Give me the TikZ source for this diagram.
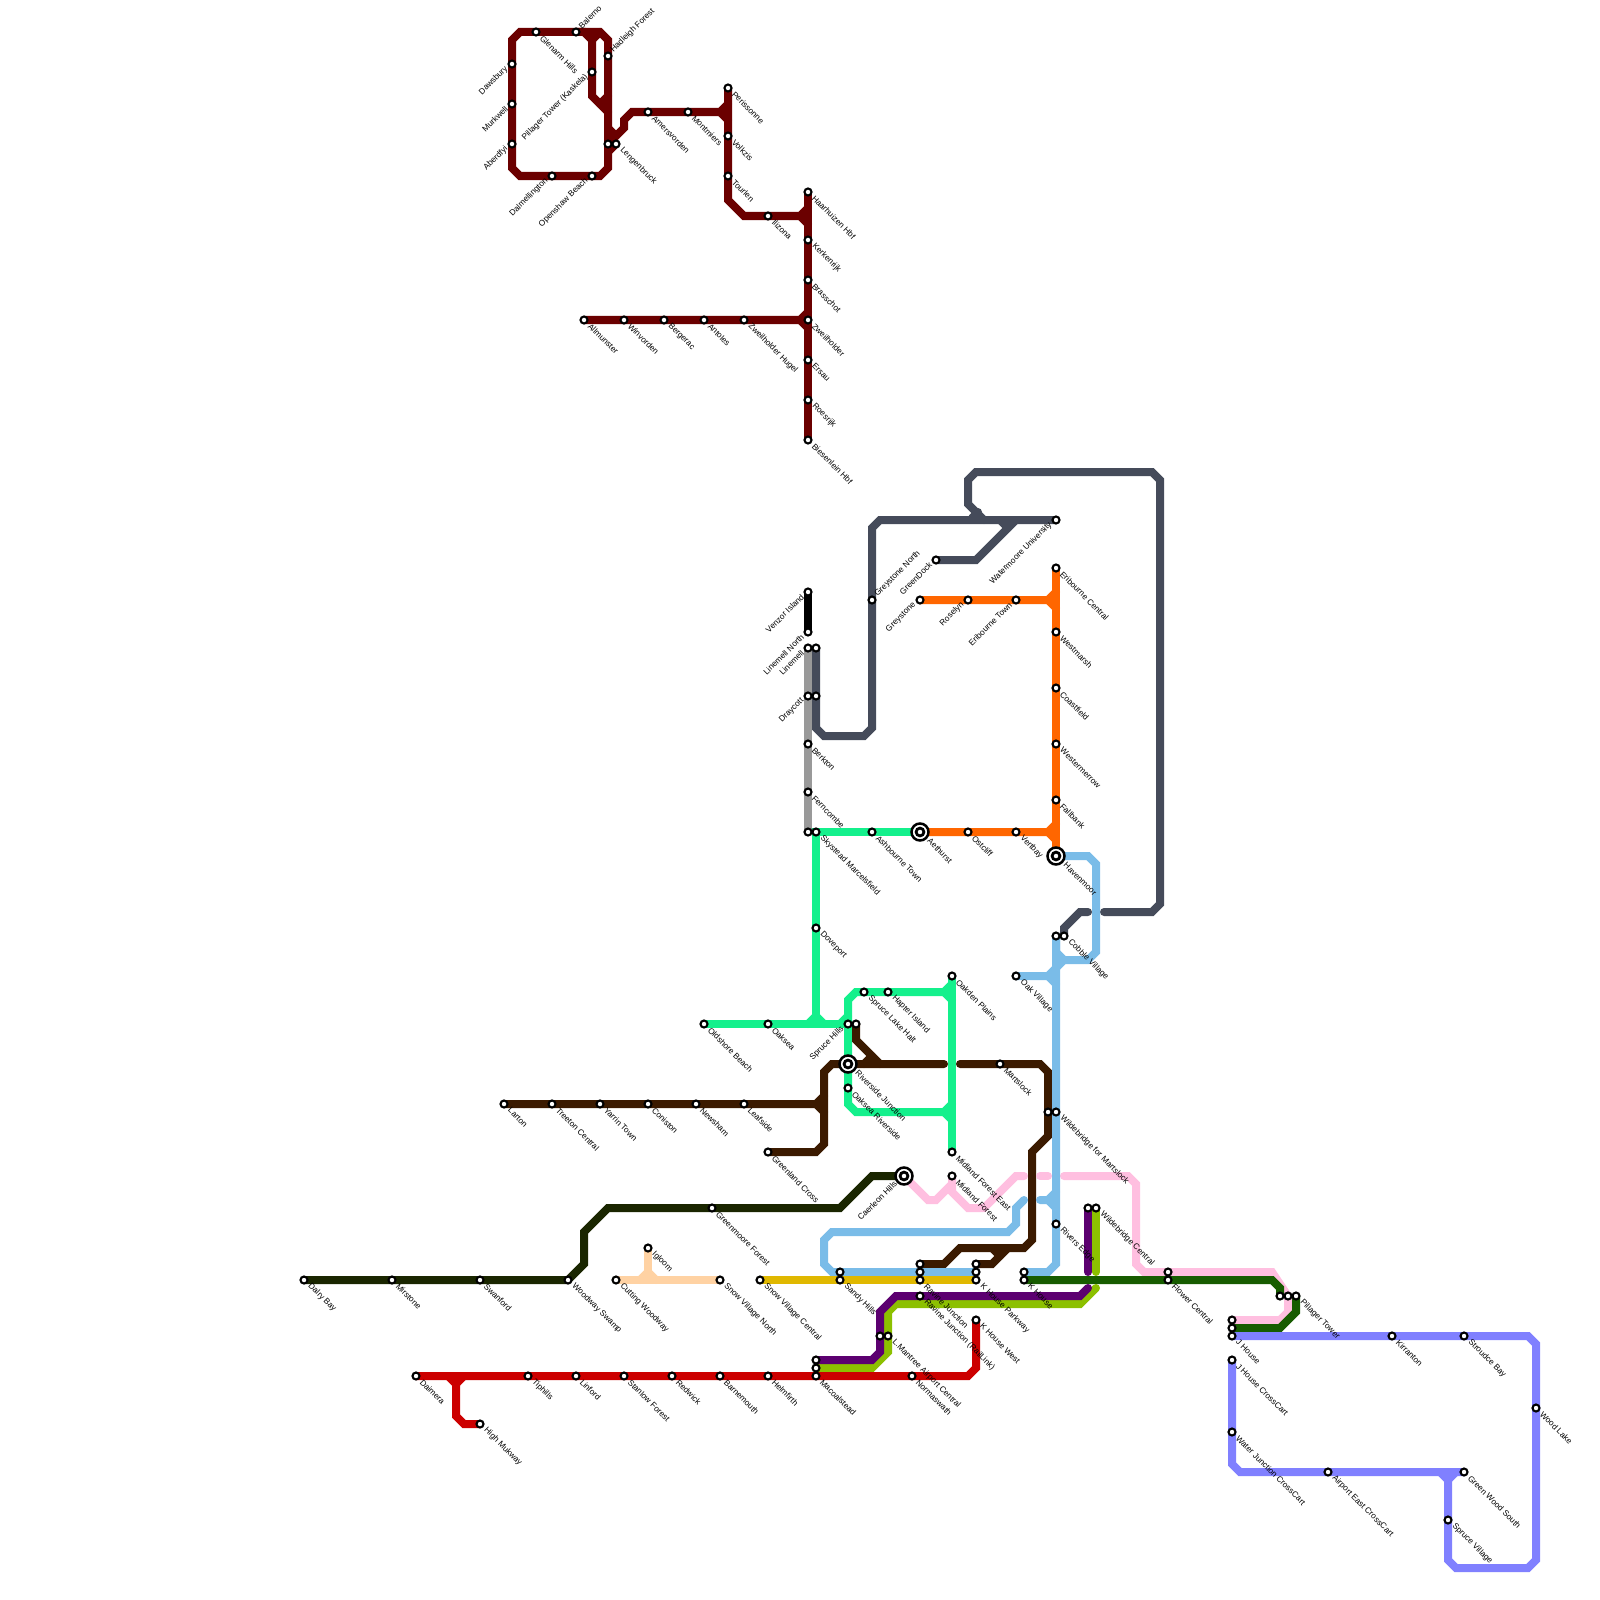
\documentclass[tikz,border=0pt]{standalone}
\usepackage{fontspec}
\setmainfont{Liberation Sans}
\pgfdeclarelayer{lines}
\pgfsetlayers{lines,main}
\definecolor{cDkred}{HTML}{6B0000}
\definecolor{cSlate}{HTML}{454B5A}
\definecolor{cOrange}{HTML}{FF6600}
\definecolor{cGreen}{HTML}{14F08C}
\definecolor{cGrey}{HTML}{999999}
\definecolor{cBlue}{HTML}{7ABCE8}
\definecolor{cBrown}{HTML}{3B1A00}
\definecolor{cNight}{HTML}{1A2600}
\definecolor{cPink}{HTML}{FFBFE0}
\definecolor{cPurple}{HTML}{5C0070}
\definecolor{cLime}{HTML}{8CC000}
\definecolor{cRed}{HTML}{CC0000}
\definecolor{cPeri}{HTML}{8080FF}
\definecolor{cGold}{HTML}{E0B800}
\definecolor{cPeach}{HTML}{FFD2A3}
\definecolor{cForest}{HTML}{175C00}
\tikzset{
  rail/.style={line width=0.08cm,line cap=round,draw=#1},
  stn/.style={circle,draw=black,fill=white,line width=0.021cm,minimum size=0.07cm,inner sep=0pt},
  hub/.style={circle,draw=black,fill=white,line width=0.025cm,minimum size=0.17cm,inner sep=0pt},
  hubin/.style={circle,draw=black,fill=white,line width=0.028cm,minimum size=0.078cm,inner sep=0pt},
  txt/.style={inner sep=0pt,font=\fontsize{2.35}{3}\selectfont,text=black},
  se/.style={xshift=0.05cm,yshift=-0.045cm,txt,anchor=west,rotate=-45},
  nw/.style={xshift=-0.05cm,yshift=-0.032cm,txt,anchor=east,rotate=45},
  ne/.style={xshift=0.035cm,yshift=0.043cm,txt,anchor=west,rotate=45},
  sebig/.style={xshift=0.085cm,yshift=-0.073cm,txt,anchor=west,rotate=-45},
  nwbig/.style={xshift=-0.08cm,yshift=-0.06cm,txt,anchor=east,rotate=45},
}
% name, x, y, label style, text
\newcommand{\stA}[5]{\node[stn] (#1) at (#2,#3) {}; \node[#4] (#1-t) at (#2,#3) {#5};}
\newcommand{\stB}[3]{\node[stn] (#1) at (#2,#3) {};}
\newcommand{\stH}[5]{\node[hub] (#1) at (#2,#3) {}; \node[hubin] (#1-i) at (#2,#3) {}; \node[#4] (#1-t) at (#2,#3) {#5};}
\begin{document}
\begin{tikzpicture}[x=0.01cm,y=-0.01cm]
\useasboundingbox (0,0) rectangle (1600,1600);
% --- dark red line stations
\stA{dawsbury}{512}{64}{nw}{Dawsbury}
\stA{murkwell}{512}{104}{nw}{Murkwell}
\stA{aberdfyi}{512}{144}{nw}{Aberdfyi}
\stA{dalmel}{552}{176}{nw}{Dalmellington}
\stA{openshaw}{592}{176}{nw}{Openshaw Beach}
\stA{glenarm}{536}{32}{se}{Glenarm Hills}
\stA{balerno}{576}{32}{ne}{Balerno}
\stA{hadleigh}{608}{56}{ne}{Hadleigh Forest}
\stA{pillagerk}{592}{72}{nw}{Pillager Tower (Kaskela)}
\stB{lengena}{608}{144}
\stA{lengenb}{616}{144}{se}{Lengenbruck}
\stA{amers}{648}{112}{se}{Amersvorden}
\stA{montm}{688}{112}{se}{Montmiers}
\stA{periss}{728}{88}{se}{Perissonne}
\stA{volkz}{728}{136}{se}{Volkzis}
\stA{tourl}{728}{176}{se}{Tourlen}
\stA{ilizona}{768}{216}{se}{Ilizona}
\stA{haarh}{808}{192}{se}{Haarhuizen Hbf}
\stA{kerk}{808}{240}{se}{Kerkenrijk}
\stA{brass}{808}{280}{se}{Brasschot}
\stA{zweil}{808}{320}{se}{Zweilholder}
\stA{ersau}{808}{360}{se}{Ersau}
\stA{roes}{808}{400}{se}{Roesrijk}
\stA{bies}{808}{440}{se}{Biesenlein Hbf}
\stA{allm}{584}{320}{se}{Allmunster}
\stA{winv}{624}{320}{se}{Winvorden}
\stA{berg}{664}{320}{se}{Bergerac}
\stA{anto}{704}{320}{se}{Antoles}
\stA{zweilh}{744}{320}{se}{Zweilholder Hugel}
% --- black, grey, slate
\stA{venzor}{808}{592}{nw}{Venzor Island}
\stA{linenorth}{808}{632}{nw}{Linemell North}
\stA{linea}{808}{648}{nw}{Linemell}
\stB{lineb}{816}{648}
\stA{draya}{808}{696}{nw}{Draycott}
\stB{drayb}{816}{696}
\stA{berk}{808}{744}{se}{Berkton}
\stA{fern}{808}{792}{se}{Ferncombe}
\stB{skya}{808}{832}
\stA{skyb}{816}{832}{se}{Skystead Marcelsfield}
\stA{greyn}{872}{600}{ne}{Greystone North}
\stA{wate}{1056}{520}{nw}{Watermoore University}
\stA{gdock}{936}{560}{nw}{GreenDock}
\stB{cobba}{1056}{936}
\stA{cobbb}{1064}{936}{se}{Cobble Village}
% --- orange
\stA{greyst}{920}{600}{nw}{Greystone}
\stA{rosel}{968}{600}{nw}{Roselyn}
\stA{eribt}{1016}{600}{nw}{Eribourne Town}
\stA{eribc}{1056}{568}{se}{Eribourne Central}
\stA{westm}{1056}{632}{se}{Westmarsh}
\stA{coast}{1056}{688}{se}{Coastfield}
\stA{wester}{1056}{744}{se}{Westermerrow}
\stA{fallb}{1056}{800}{se}{Fallbank}
\stH{haven}{1056}{856}{sebig}{Havenmoor}
\stH{aeth}{920}{832}{sebig}{Aethurst}
\stA{ostc}{968}{832}{se}{Ostcliff}
\stA{vert}{1016}{832}{se}{Vertbay}
% --- green
\stA{ashb}{872}{832}{se}{Ashbourne Town}
\stA{dove}{816}{928}{se}{Doveport}
\stA{oldsh}{704}{1024}{se}{Oldshore Beach}
\stA{oaksea}{768}{1024}{se}{Oaksea}
\stA{sprha}{848}{1024}{nw}{Spruce Hills}
\stB{sprhb}{856}{1024}
\stH{river}{848}{1064}{sebig}{Riverside Junction}
\stA{oaksr}{848}{1088}{se}{Oaksea Riverside}
\stA{sprlk}{864}{992}{se}{Spruce Lake Halt}
\stA{hapt}{888}{992}{se}{Hapter Island}
\stA{oakd}{952}{976}{se}{Oakden Plains}
\stA{midle}{952}{1152}{se}{Midland Forest East}
% --- brown
\stA{larton}{504}{1104}{se}{Larton}
\stA{treet}{552}{1104}{se}{Treeton Central}
\stA{yarrin}{600}{1104}{se}{Yarrin Town}
\stA{conis}{648}{1104}{se}{Coniston}
\stA{newsh}{696}{1104}{se}{Newsham}
\stA{leafs}{744}{1104}{se}{Leafside}
\stA{greenl}{768}{1152}{se}{Greenland Cross}
\stA{marts}{1000}{1064}{se}{Martslock}
\stB{wildma}{1048}{1112}
\stA{wildmb}{1056}{1112}{se}{Wildebridge for Martslock}
% --- blue and friends
\stA{oakv}{1016}{976}{se}{Oak Village}
\stA{rivers}{1056}{1224}{se}{Rivers Edge}
\stB{sandya}{840}{1272}
\stA{sandyb}{840}{1280}{se}{Sandy Hills}
\stB{ravia}{920}{1264}
\stB{ravib}{920}{1272}
\stA{ravic}{920}{1280}{se}{Ravine Junction}
\stA{ravird}{920}{1296}{se}{Ravine Junction (RailLink)}
\stB{kpa}{976}{1264}
\stB{kpb}{976}{1272}
\stA{kpc}{976}{1280}{se}{K House Parkway}
\stB{kha}{1024}{1272}
\stA{khb}{1024}{1280}{se}{K House}
\stA{snowc}{760}{1280}{se}{Snow Village Central}
\stA{cutt}{616}{1280}{se}{Cutting Woodway}
\stA{snown}{720}{1280}{se}{Snow Village North}
\stA{igloo}{648}{1248}{se}{Igloom}
% --- night line
\stA{dalry}{304}{1280}{se}{Dalry Bay}
\stA{mirst}{392}{1280}{se}{Mirstone}
\stA{swanf}{480}{1280}{se}{Swanford}
\stA{woodw}{568}{1280}{se}{Woodway Swamp}
\stA{greenm}{712}{1208}{se}{Greenmoore Forest}
\stH{caer}{904}{1176}{nwbig}{Caerleon Hills}
\stA{midl}{952}{1176}{se}{Midland Forest}
% --- purple, lime, red
\stB{wildca}{1088}{1208}
\stA{wildcb}{1096}{1208}{se}{Wildebridge Central}
\stB{mana}{880}{1336}
\stA{manb}{888}{1336}{se}{L.Mantree Airport Central}
\stB{maca}{816}{1360}
\stB{macb}{816}{1368}
\stA{macc}{816}{1376}{se}{Macoalstead}
\stA{daim}{416}{1376}{se}{Daimera}
\stA{tiph}{528}{1376}{se}{Tiphills}
\stA{linf}{576}{1376}{se}{Linford}
\stA{stanl}{624}{1376}{se}{Stanlow Forest}
\stA{redw}{672}{1376}{se}{Redwick}
\stA{barn}{720}{1376}{se}{Barnemouth}
\stA{helm}{768}{1376}{se}{Helmfirth}
\stA{norm}{912}{1376}{se}{Normaswath}
\stA{khw}{976}{1320}{se}{K House West}
\stA{highm}{480}{1424}{se}{High Mukway}
% --- east
\stB{flowa}{1168}{1272}
\stA{flowb}{1168}{1280}{se}{Flower Central}
\stB{pila}{1280}{1296}
\stB{pilb}{1288}{1296}
\stA{pilc}{1296}{1296}{se}{Pillager Tower}
\stB{jha}{1232}{1320}
\stB{jhb}{1232}{1328}
\stA{jhc}{1232}{1336}{se}{J House}
\stA{jhcc}{1232}{1360}{se}{J House CrossCart}
\stA{wjcc}{1232}{1432}{se}{Water Junction CrossCart}
\stA{aecc}{1328}{1472}{se}{Airport East CrossCart}
\stA{gws}{1464}{1472}{se}{Green Wood South}
\stA{sprv}{1448}{1520}{se}{Spruce Village}
\stA{kirr}{1392}{1336}{se}{Kirranton}
\stA{strou}{1464}{1336}{se}{Stroudce Bay}
\stA{woodl}{1536}{1408}{se}{Wood Lake}
\begin{pgfonlayer}{lines}
\fill[white] (0,0) rectangle (1600,1600);
% dark red
\draw[rail=cDkred] (aberdfyi.center)--(murkwell.center)--(dawsbury.center)--(512,40)--(520,32)--(glenarm.center)--(balerno.center)--(600,32)--(608,40)--(hadleigh.center)--(lengena.center)--(608,168)--(600,176)--(openshaw.center)--(dalmel.center)--(520,176)--(512,168)--(aberdfyi.center);
\draw[rail=cDkred] (balerno.center)--(584,32)--(592,40)--(pillagerk.center)--(592,96)--(608,112);
\draw[rail=cDkred] (592,40)--(600,32);
\draw[rail=cDkred] (600,104)--(608,96);
\draw[rail=cDkred] (608,128)--(616,136);
\draw[rail=cDkred] (lengena.center)--(624,128)--(624,120)--(632,112)--(amers.center)--(montm.center)--(720,112)--(728,104);
\draw[rail=cDkred] (lengenb.center)--(608,152);
\draw[rail=cDkred] (720,112)--(728,120);
\draw[rail=cDkred] (periss.center)--(volkz.center)--(tourl.center)--(728,200)--(744,216)--(ilizona.center)--(800,216)--(808,208);
\draw[rail=cDkred] (800,216)--(808,224);
\draw[rail=cDkred] (haarh.center)--(kerk.center)--(brass.center)--(zweil.center)--(ersau.center)--(roes.center)--(bies.center);
\draw[rail=cDkred] (allm.center)--(winv.center)--(berg.center)--(anto.center)--(zweilh.center)--(800,320)--(808,312);
\draw[rail=cDkred] (800,320)--(808,328);
% black, grey
\draw[rail=black] (venzor.center)--(linenorth.center);
\draw[rail=cGrey] (linea.center)--(draya.center)--(berk.center)--(fern.center)--(skya.center);
% slate
\draw[rail=cSlate] (lineb.center)--(drayb.center)--(816,728)--(824,736)--(864,736)--(872,728)--(greyn.center)--(872,528)--(880,520)--(wate.center);
\draw[rail=cSlate] (gdock.center)--(976,560)--(1016,520);
\draw[rail=cSlate] (1000,520)--(1008,528);
\draw[rail=cSlate] (cobbb.center)--(1064,928)--(1080,912)--(1088,912);
\draw[rail=cSlate] (1104,912)--(1152,912)--(1160,904)--(1160,480)--(1152,472)--(976,472)--(968,480)--(968,504)--(984,520);
\draw[rail=cSlate] (972,518)--(978,512);
% orange
\draw[rail=cOrange] (greyst.center)--(rosel.center)--(eribt.center)--(1048,600)--(1056,592);
\draw[rail=cOrange] (1048,600)--(1056,608);
\draw[rail=cOrange] (eribc.center)--(westm.center)--(coast.center)--(wester.center)--(fallb.center)--(haven.center);
\draw[rail=cOrange] (aeth.center)--(ostc.center)--(vert.center)--(1048,832)--(1056,824);
\draw[rail=cOrange] (1048,832)--(1056,840);
% green
\draw[rail=cGreen] (aeth.center)--(ashb.center)--(skyb.center)--(dove.center)--(816,1016);
\draw[rail=cGreen] (oldsh.center)--(oaksea.center)--(sprha.center);
\draw[rail=cGreen] (808,1024)--(816,1016)--(824,1024);
\draw[rail=cGreen] (840,1024)--(848,1016);
\draw[rail=cGreen] (oaksr.center)--(river.center)--(sprha.center)--(848,1000)--(856,992)--(sprlk.center)--(hapt.center)--(944,992)--(952,984);
\draw[rail=cGreen] (944,992)--(952,1000);
\draw[rail=cGreen] (oakd.center)--(midle.center);
\draw[rail=cGreen] (oaksr.center)--(848,1104)--(856,1112)--(944,1112)--(952,1104);
\draw[rail=cGreen] (944,1112)--(952,1120);
% brown
\draw[rail=cBrown] (larton.center)--(treet.center)--(yarrin.center)--(conis.center)--(newsh.center)--(leafs.center)--(816,1104)--(824,1096);
\draw[rail=cBrown] (816,1104)--(824,1112);
\draw[rail=cBrown] (greenl.center)--(816,1152)--(824,1144)--(824,1072)--(832,1064)--(river.center)--(944,1064);
\draw[rail=cBrown] (sprhb.center)--(856,1040)--(880,1064);
\draw[rail=cBrown] (864,1064)--(872,1056);
\draw[rail=cBrown] (960,1064)--(marts.center)--(1040,1064)--(1048,1072)--(wildma.center)--(1048,1136)--(1032,1152)--(1032,1240)--(1024,1248)--(960,1248)--(944,1264)--(ravia.center);
\draw[rail=cBrown] (kpa.center)--(992,1264)--(1008,1248);
\draw[rail=cBrown] (992,1248)--(1000,1256);
% night
\draw[rail=cNight] (dalry.center)--(mirst.center)--(swanf.center)--(woodw.center)--(584,1264)--(584,1232)--(608,1208)--(greenm.center)--(840,1208)--(872,1176)--(caer.center);
% pink
\draw[rail=cPink] (caer.center)--(928,1200)--(936,1200)--(952,1184)--(midl.center);
\draw[rail=cPink] (952,1184)--(952,1192)--(968,1208)--(984,1208)--(1016,1176)--(1024,1176);
\draw[rail=cPink] (1040,1176)--(1048,1176);
\draw[rail=cPink] (1064,1176)--(1128,1176)--(1136,1184)--(1136,1264)--(1144,1272)--(flowa.center)--(1272,1272)--(pilb.center)--(1288,1312)--(1280,1320)--(jha.center);
% blue
\draw[rail=cBlue] (haven.center)--(1088,856)--(1096,864)--(1096,952)--(1088,960)--(1064,960)--(1056,968);
\draw[rail=cBlue] (cobba.center)--(1056,952)--(1064,960);
\draw[rail=cBlue] (cobba.center)--(wildmb.center)--(rivers.center)--(1056,1264)--(1048,1272)--(kha.center);
\draw[rail=cBlue] (oakv.center)--(1048,976)--(1056,968);
\draw[rail=cBlue] (1048,976)--(1056,984);
\draw[rail=cBlue] (1040,1200)--(1048,1200)--(1056,1192);
\draw[rail=cBlue] (1048,1200)--(1056,1208);
\draw[rail=cBlue] (1024,1200)--(1016,1208)--(1016,1224)--(1008,1232)--(832,1232)--(824,1240)--(824,1264)--(832,1272)--(sandya.center)--(ravib.center)--(kpb.center);
% gold, peach
\draw[rail=cGold] (snowc.center)--(sandyb.center)--(ravic.center)--(kpc.center);
\draw[rail=cPeach] (cutt.center)--(snown.center);
\draw[rail=cPeach] (igloo.center)--(648,1272);
\draw[rail=cPeach] (640,1280)--(648,1272)--(656,1280);
% forest
\draw[rail=cForest] (khb.center)--(flowb.center)--(1272,1280)--(1280,1288)--(pila.center);
\draw[rail=cForest] (pilc.center)--(1296,1312)--(1280,1328)--(jhb.center);
% lime, purple
\draw[rail=cLime] (wildcb.center)--(1096,1272);
\draw[rail=cLime] (1096,1288)--(1080,1304)--(896,1304)--(888,1312)--(manb.center)--(888,1352)--(872,1368)--(macb.center);
\draw[rail=cPurple] (wildca.center)--(1088,1272);
\draw[rail=cPurple] (1088,1288)--(1080,1296)--(ravird.center)--(896,1296)--(880,1312)--(mana.center)--(880,1352)--(872,1360)--(maca.center);
% red
\draw[rail=cRed] (daim.center)--(tiph.center)--(linf.center)--(stanl.center)--(redw.center)--(barn.center)--(helm.center)--(macc.center)--(norm.center)--(968,1376)--(976,1368)--(khw.center);
\draw[rail=cRed] (448,1376)--(456,1384)--(464,1376);
\draw[rail=cRed] (456,1384)--(456,1416)--(464,1424)--(highm.center);
% periwinkle
\draw[rail=cPeri] (jhc.center)--(kirr.center)--(strou.center)--(1528,1336)--(1536,1344)--(woodl.center)--(1536,1560)--(1528,1568)--(1456,1568)--(1448,1560)--(sprv.center)--(1448,1480);
\draw[rail=cPeri] (1440,1472)--(1448,1480)--(1456,1472);
\draw[rail=cPeri] (jhcc.center)--(wjcc.center)--(1232,1464)--(1240,1472)--(aecc.center)--(gws.center);
\end{pgfonlayer}
\end{tikzpicture}
\end{document}
